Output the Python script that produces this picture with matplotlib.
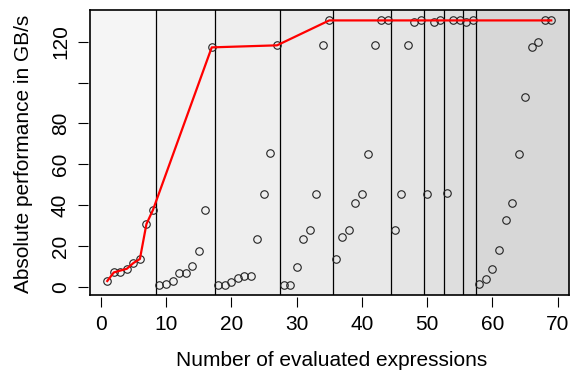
import numpy as np
import matplotlib
matplotlib.use("Agg")
import matplotlib.pyplot as plt

plt.rcParams['font.family'] = ['Liberation Sans', 'DejaVu Sans']

# Performance (GB/s) of each evaluated expression, in evaluation order
values = [2.8, 7.0, 7.0, 8.8, 11.6, 13.6, 30.7, 37.6,
          0.7, 1.2, 2.9, 6.9, 6.9, 10.3, 17.6, 37.6, 117.2,
          0.7, 1.0, 2.1, 4.4, 5.4, 5.4, 23.2, 45.6, 65.6, 118.2,
          0.7, 1.0, 9.8, 23.2, 27.8, 45.6, 118.2, 130.4,
          13.6, 24.2, 27.8, 41.0, 45.2, 65.1, 118.2, 130.4, 130.4,
          27.8, 45.2, 118.2, 129.6, 130.4,
          45.2, 129.6, 130.4,
          45.7, 130.4, 130.4,
          129.6, 130.4,
          1.2, 3.9, 8.7, 17.8, 32.5, 41.0, 65.1, 92.7, 117.4, 119.7, 130.4, 130.4]
# Phase boundaries (between expressions)
boundaries = [8.5, 17.5, 27.5, 35.5, 44.5, 49.5, 52.5, 55.5, 57.5]
x_ticks = [0, 10, 20, 30, 40, 50, 60, 70]
y_ticks = [0, 20, 40, 60, 80, 100, 120]
y_tick_labels = ['0', '20', '40', '60', '80', '', '120']

vals = np.array(values)
xs = np.arange(1, len(vals) + 1)
cm = np.maximum.accumulate(vals)
improve = np.r_[True, vals[1:] > cm[:-1]]
bx = list(xs[improve])
by = list(vals[improve])
if bx[-1] != xs[-1]:
    bx.append(xs[-1]); by.append(cm[-1])

W, H = 570, 374
fig = plt.figure(figsize=(W / 100, H / 100), dpi=100)
left, right, top, bottom = 89.5, 569, 10, 294.7
ax = fig.add_axes([left / W, 1 - bottom / H, (right - left) / W, (bottom - top) / H])

xmin, xmax = 1 - 0.04 * 68, 69 + 0.04 * 68
ymin, ymax = -3.9, 135.5
ax.set_xlim(xmin, xmax)
ax.set_ylim(ymin, ymax)

edges = [xmin] + boundaries + [xmax]
n = len(edges) - 1
shades = np.linspace(0.96, 0.845, n)
for i in range(n):
    g = shades[i]
    ax.axvspan(edges[i], edges[i + 1], color=(g, g, g), lw=0, zorder=0)
for b in boundaries:
    ax.axvline(b, color='black', lw=0.9, zorder=1)

ax.plot(xs, vals, 'o', mfc='none', mec='#222222', mew=0.8, ms=5.4, zorder=2)
ax.plot(bx, by, color='#ff0000', lw=1.6, zorder=3)

for s in ax.spines.values():
    s.set_linewidth(1.2)
ax.set_xticks([]); ax.set_yticks([])

plot_h = bottom - top
plot_w = right - left
secx = ax.secondary_xaxis(-2.5 / plot_h)
secx.spines['bottom'].set_visible(False)
secx.set_xticks(x_ticks)
secx.tick_params(axis='x', length=7, width=0.8, labelsize=15, pad=6)

secy = ax.secondary_yaxis(-1.5 / plot_w)
secy.spines['left'].set_visible(False)
secy.set_yticks(y_ticks)
secy.set_yticklabels(y_tick_labels, rotation=90, va='center')
secy.tick_params(axis='y', length=7, width=0.8, labelsize=15, pad=6)

fig.text(24 / W, 1 - 154 / H, 'Absolute performance in GB/s', rotation=90,
         ha='center', va='center', fontsize=15)
fig.text(332 / W, 1 - 361 / H, 'Number of evaluated expressions',
         ha='center', va='center', fontsize=15)

fig.savefig('out.png', dpi=100)
